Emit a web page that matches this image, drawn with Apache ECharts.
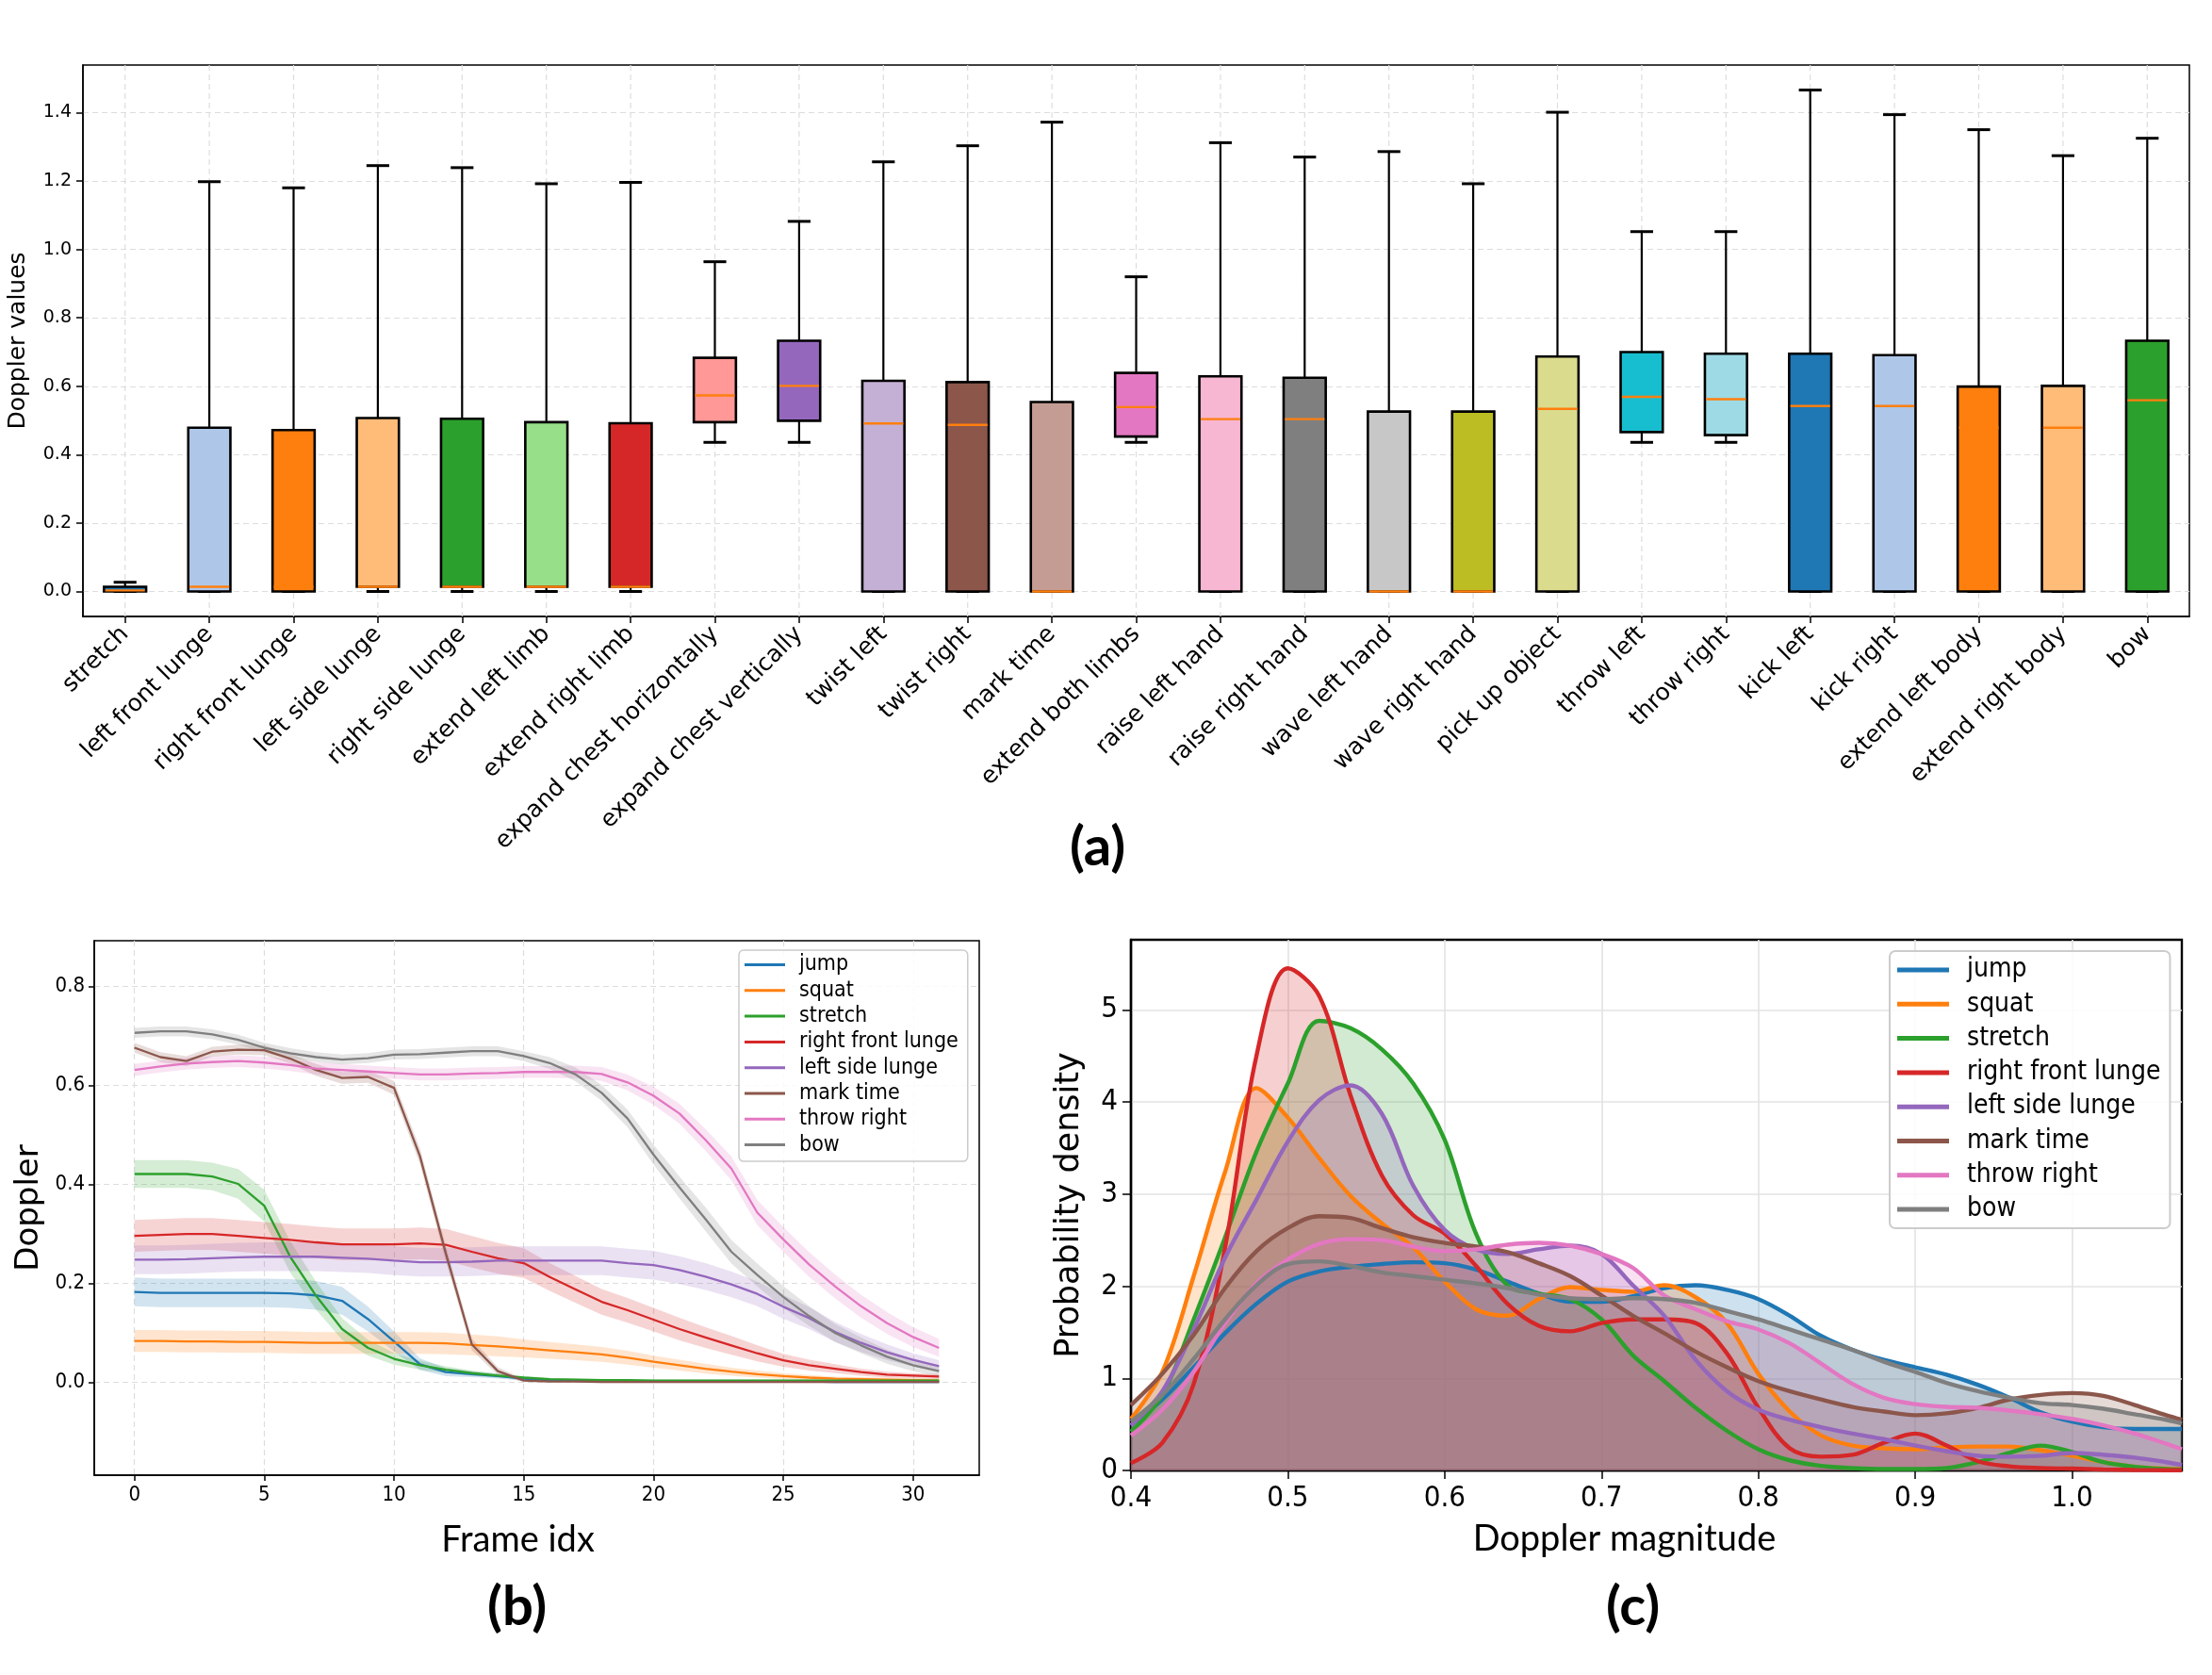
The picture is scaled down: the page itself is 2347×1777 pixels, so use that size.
<!DOCTYPE html>
<html>
<head>
<meta charset="utf-8">
<script src="https://cdn.jsdelivr.net/npm/echarts@6/dist/echarts.min.js"></script>
<style>
html, body { margin: 0; padding: 0; background: #fff; }
#chart { width: 2347px; height: 1777px; }
</style>
</head>
<body>
<div id="chart"></div>
<script>
// ---- panel (a): box plots per activity ----
const activities = ['stretch', 'left front lunge', 'right front lunge', 'left side lunge', 'right side lunge',
    'extend left limb', 'extend right limb', 'expand chest horizontally', 'expand chest vertically',
    'twist left', 'twist right', 'mark time', 'extend both limbs', 'raise left hand', 'raise right hand',
    'wave left hand', 'wave right hand', 'pick up object', 'throw left', 'throw right', 'kick left',
    'kick right', 'extend left body', 'extend right body', 'bow'];
const boxColors = ['#1f77b4', '#aec7e8', '#ff7f0e', '#ffbb78', '#2ca02c', '#98df8a', '#d62728', '#ff9896',
    '#9467bd', '#c5b0d5', '#8c564b', '#c49c94', '#e377c2', '#f7b6d2', '#7f7f7f', '#c7c7c7', '#bcbd22',
    '#dbdb8d', '#17becf', '#9edae5', '#1f77b4', '#aec7e8', '#ff7f0e', '#ffbb78', '#2ca02c'];
const whiskerLow = [0, 0, 0, 0, 0, 0, 0, 0.436, 0.436, 0, 0, 0, 0.436, 0, 0, 0, 0, 0, 0.436, 0.436, 0, 0, 0, 0, 0];
const q1 = [0, 0, 0, 0.014, 0.014, 0.014, 0.014, 0.495, 0.499, 0, 0, 0, 0.453, 0, 0, 0, 0, 0, 0.466, 0.457, 0, 0, 0, 0, 0];
const medians = [0.003, 0.014, 0.014, 0.014, 0.014, 0.014, 0.014, 0.573, 0.601, 0.491, 0.487, 0, 0.539, 0.504, 0.504,
    0, 0, 0.534, 0.569, 0.562, 0.542, 0.542, 0.479, 0.479, 0.559];
const q3 = [0.014, 0.479, 0.472, 0.507, 0.505, 0.495, 0.492, 0.683, 0.733, 0.616, 0.612, 0.554, 0.639, 0.629, 0.625,
    0.526, 0.526, 0.687, 0.700, 0.695, 0.695, 0.691, 0.599, 0.601, 0.733];
const whiskerHigh = [0.027, 1.198, 1.180, 1.245, 1.239, 1.192, 1.196, 0.964, 1.082, 1.256, 1.303, 1.372, 0.920, 1.312,
    1.270, 1.286, 1.192, 1.401, 1.052, 1.052, 1.466, 1.394, 1.350, 1.274, 1.325];
const ticksA = [0, 0.2, 0.4, 0.6, 0.8, 1.0, 1.2, 1.4];

// ---- panel (b): mean doppler per frame with spread ----
const frames = [0, 1, 2, 3, 4, 5, 6, 7, 8, 9, 10, 11, 12, 13, 14, 15, 16, 17, 18, 19, 20, 21, 22, 23, 24, 25, 26, 27, 28, 29, 30, 31];
const meanJump = [.183, .181, .181, .181, .181, .181, .180, .176, .165, .128, .083, .037, .021, .017, .013, .008,
    .005, .004, .003, .003, .002, .002, .002, .002, .002, .002, .002, .001, .001, .001, .001, .001];
const bandJump = [.029, .029, .029, .029, .029, .029, .029, .029, .028, .025, .020, .012, .008, .006, .005, .004,
    .003, .003, .003, .002, .002, .002, .002, .002, .002, .002, .002, .002, .002, .002, .002, .002];
const meanSquat = [.084, .084, .083, .083, .082, .082, .081, .080, .080, .080, .080, .080, .079, .076, .073, .069,
    .065, .061, .057, .050, .042, .035, .028, .022, .017, .013, .010, .008, .007, .006, .005, .004];
const bandSquat = [.022, .022, .022, .022, .022, .022, .022, .022, .022, .022, .022, .022, .022, .021, .020, .018,
    .017, .016, .015, .014, .012, .011, .010, .008, .007, .006, .005, .004, .004, .004, .004, .004];
const meanStretch = [.421, .421, .421, .416, .401, .357, .254, .175, .108, .070, .048, .035, .026, .019, .014, .010,
    .007, .006, .005, .005, .004, .004, .004, .004, .004, .004, .004, .004, .004, .004, .004, .004];
const bandStretch = [.028, .028, .028, .028, .030, .032, .032, .028, .022, .016, .012, .009, .007, .005, .004, .003,
    .002, .002, .002, .002, .002, .002, .002, .002, .002, .002, .002, .002, .002, .002, .002, .002];
const meanRightFront = [.296, .298, .300, .300, .296, .292, .288, .283, .279, .279, .279, .281, .278, .264, .251, .241,
    .213, .188, .163, .146, .127, .108, .091, .075, .059, .045, .035, .028, .021, .016, .014, .012];
const bandRightFront = [.032, .032, .032, .032, .032, .032, .032, .032, .032, .032, .032, .032, .032, .032, .031, .030,
    .028, .027, .026, .025, .024, .023, .021, .019, .016, .013, .011, .009, .007, .006, .005, .005];
const meanLeftSide = [.248, .248, .249, .251, .253, .254, .254, .254, .252, .250, .246, .243, .243, .244, .246, .246,
    .246, .246, .246, .241, .237, .227, .214, .198, .179, .153, .130, .102, .080, .061, .046, .033];
const bandLeftSide = [.029, .029, .029, .029, .029, .029, .029, .029, .029, .029, .029, .029, .029, .029, .029, .029,
    .029, .029, .029, .029, .029, .028, .027, .026, .025, .024, .022, .020, .018, .016, .013, .012];
const meanMarkTime = [.676, .657, .649, .668, .672, .671, .654, .631, .615, .617, .595, .457, .260, .077, .023, .004,
    .002, .002, .001, .001, .001, .001, .001, .001, .001, .001, .001, .001, .001, .001, .001, .001];
const bandMarkTime = [.010, .010, .010, .010, .010, .010, .010, .012, .012, .012, .014, .016, .016, .012, .008, .003,
    .002, .002, .002, .002, .002, .002, .002, .002, .002, .002, .002, .002, .002, .002, .002, .002];
const meanThrowRight = [.631, .638, .644, .647, .649, .646, .641, .634, .631, .628, .625, .622, .622, .624, .625, .627,
    .627, .627, .623, .606, .579, .543, .490, .432, .343, .289, .238, .194, .154, .120, .092, .070];
const bandThrowRight = [.012, .012, .012, .012, .012, .012, .012, .012, .012, .012, .012, .012, .012, .012, .012, .012,
    .012, .013, .014, .016, .018, .020, .022, .024, .025, .025, .025, .024, .023, .022, .020, .018];
const meanBow = [.706, .709, .709, .703, .692, .676, .665, .657, .652, .655, .662, .663, .666, .669, .669, .659,
    .645, .622, .585, .533, .460, .394, .330, .264, .217, .173, .134, .100, .075, .052, .035, .023];
const bandBow = [.010, .010, .010, .010, .010, .010, .010, .010, .010, .010, .010, .010, .010, .010, .010, .010,
    .012, .014, .016, .018, .020, .022, .024, .024, .023, .022, .020, .018, .016, .014, .012, .010];
const ticksBx = [0, 5, 10, 15, 20, 25, 30];
const ticksBy = [0, 0.2, 0.4, 0.6, 0.8];

// ---- panel (c): density of doppler magnitude ----
const magX = [0.40, 0.42, 0.44, 0.46, 0.48, 0.50, 0.52, 0.54, 0.56, 0.58, 0.60, 0.62, 0.64, 0.66, 0.68, 0.70, 0.72,
    0.74, 0.76, 0.78, 0.80, 0.82, 0.84, 0.86, 0.88, 0.90, 0.92, 0.94, 0.96, 0.98, 1.00, 1.02, 1.04, 1.06, 1.07];
const kdeJump = [.49, .77, 1.12, 1.49, 1.81, 2.05, 2.16, 2.21, 2.24, 2.26, 2.25, 2.18, 2.05, 1.92, 1.83, 1.83, 1.89,
    1.98, 2.01, 1.96, 1.86, 1.68, 1.46, 1.31, 1.20, 1.12, 1.04, .93, .79, .63, .53, .47, .45, .45, .45];
const kdeSquat = [.56, 1.07, 2.11, 3.24, 4.15, 3.83, 3.39, 2.98, 2.68, 2.42, 2.05, 1.75, 1.68, 1.86, 1.99, 1.96, 1.94,
    2.01, 1.88, 1.60, 1.05, .64, .38, .27, .24, .23, .25, .26, .26, .22, .16, .09, .04, .02, .015];
const kdeStretch = [.42, .82, 1.64, 2.53, 3.46, 4.20, 4.88, 4.80, 4.57, 4.20, 3.59, 2.57, 2.01, 1.92, 1.86, 1.64, 1.25,
    .97, .68, .43, .23, .11, .05, .026, .015, .015, .026, .09, .19, .27, .20, .09, .04, .015, .01];
const kdeRightFront = [.08, .30, .94, 2.42, 4.50, 5.45, 5.15, 4.07, 3.20, 2.77, 2.57, 2.22, 1.81, 1.57, 1.51, 1.60, 1.64,
    1.64, 1.60, 1.27, .68, .24, .15, .17, .30, .40, .27, .10, .045, .026, .02, .01, .005, .003, .002];
const kdeLeftSide = [.49, .86, 1.53, 2.31, 2.94, 3.57, 4.02, 4.18, 3.87, 3.09, 2.61, 2.40, 2.35, 2.40, 2.44, 2.35, 2.01,
    1.68, 1.20, .86, .66, .55, .47, .40, .34, .27, .21, .16, .15, .16, .19, .17, .14, .09, .06];
const kdeMarkTime = [.71, 1.05, 1.47, 1.98, 2.38, 2.63, 2.76, 2.74, 2.63, 2.53, 2.47, 2.43, 2.37, 2.25, 2.11, 1.90, 1.68,
    1.49, 1.29, 1.12, .97, .86, .77, .69, .64, .60, .62, .68, .77, .82, .84, .81, .71, .60, .55];
const kdeThrowRight = [.38, .66, 1.07, 1.60, 2.03, 2.29, 2.46, 2.51, 2.50, 2.43, 2.38, 2.40, 2.45, 2.47, 2.44, 2.35, 2.20,
    1.90, 1.75, 1.62, 1.53, 1.38, 1.16, .94, .79, .72, .69, .68, .65, .61, .56, .49, .40, .29, .23];
const kdeBow = [.53, .82, 1.21, 1.64, 2.01, 2.24, 2.27, 2.22, 2.15, 2.11, 2.07, 2.03, 1.98, 1.91, 1.87, 1.86, 1.87,
    1.86, 1.82, 1.73, 1.64, 1.53, 1.42, 1.31, 1.18, 1.07, .95, .86, .79, .73, .71, .67, .61, .55, .51];
const ticksCx = [0.4, 0.5, 0.6, 0.7, 0.8, 0.9, 1.0];
const ticksCy = [0, 1, 2, 3, 4, 5];

const lineNames = ['jump', 'squat', 'stretch', 'right front lunge', 'left side lunge', 'mark time', 'throw right', 'bow'];
const lineColors = ['#1f77b4', '#ff7f0e', '#2ca02c', '#d62728', '#9467bd', '#8c564b', '#e377c2', '#7f7f7f'];
const meansB = [meanJump, meanSquat, meanStretch, meanRightFront, meanLeftSide, meanMarkTime, meanThrowRight, meanBow];
const bandsB = [bandJump, bandSquat, bandStretch, bandRightFront, bandLeftSide, bandMarkTime, bandThrowRight, bandBow];
const kdesC = [kdeJump, kdeSquat, kdeStretch, kdeRightFront, kdeLeftSide, kdeMarkTime, kdeThrowRight, kdeBow];

const condensed = "'DejaVu Sans Condensed', 'DejaVu Sans', sans-serif";
const humanist = "Lato, 'Open Sans', sans-serif";

function renderBox(params, api) {
    const i = api.value(0);
    const x = api.coord([i, 0])[0];
    const yLo = api.coord([i, api.value(1)])[1];
    const yQ1 = api.coord([i, api.value(2)])[1];
    const yMed = api.coord([i, api.value(3)])[1];
    const yQ3 = api.coord([i, api.value(4)])[1];
    const yHi = api.coord([i, api.value(5)])[1];
    const bw = api.size([1, 0])[0] * 0.5;
    const cap = bw * 0.27;
    const cs = params.coordSys;
    return {
        type: 'group',
        children: [
            {type: 'line', silent: true, shape: {x1: x, y1: cs.y, x2: x, y2: cs.y + cs.height},
                style: {stroke: '#dddddd', lineWidth: 1.2, lineDash: [6, 4]}},
            {type: 'line', shape: {x1: x, y1: yQ3, x2: x, y2: yHi}, style: {stroke: '#000', lineWidth: 2.2}},
            {type: 'line', shape: {x1: x, y1: yQ1, x2: x, y2: yLo}, style: {stroke: '#000', lineWidth: 2.2}},
            {type: 'line', shape: {x1: x - cap, y1: yHi, x2: x + cap, y2: yHi}, style: {stroke: '#000', lineWidth: 3}},
            {type: 'line', shape: {x1: x - cap, y1: yLo, x2: x + cap, y2: yLo}, style: {stroke: '#000', lineWidth: 3}},
            {type: 'rect', shape: {x: x - bw / 2, y: yQ3, width: bw, height: yQ1 - yQ3},
                style: {fill: boxColors[params.dataIndex], stroke: '#000', lineWidth: 2.6}},
            {type: 'line', shape: {x1: x - bw / 2 + 1.3, y1: yMed, x2: x + bw / 2 - 1.3, y2: yMed},
                style: {stroke: '#ff7f0e', lineWidth: 2.4}}
        ]
    };
}

function bandSeries(mean, spread, color) {
    return {
        type: 'custom', xAxisIndex: 1, yAxisIndex: 1, silent: true, clip: true,
        data: [[0, 0]],
        renderItem: function (params, api) {
            const pts = [];
            frames.forEach((f, k) => pts.push(api.coord([f, mean[k] + spread[k]])));
            for (let k = frames.length - 1; k >= 0; k--) {
                pts.push(api.coord([frames[k], mean[k] - spread[k]]));
            }
            return {type: 'polygon', shape: {points: pts}, style: {fill: color, opacity: 0.2}};
        }
    };
}

const series = [];
series.push({
    type: 'custom', name: 'box', xAxisIndex: 0, yAxisIndex: 0,
    renderItem: renderBox,
    encode: {x: 0, y: [1, 2, 3, 4, 5]},
    data: activities.map((a, i) => [i, whiskerLow[i], q1[i], medians[i], q3[i], whiskerHigh[i]])
});
lineNames.forEach((name, s) => {
    series.push(bandSeries(meansB[s], bandsB[s], lineColors[s]));
    series.push({
        type: 'line', name: name, xAxisIndex: 1, yAxisIndex: 1,
        data: frames.map((f, k) => [f, meansB[s][k]]),
        showSymbol: false, color: lineColors[s],
        lineStyle: {width: 2.3, color: lineColors[s]}
    });
});
lineNames.forEach((name, s) => {
    series.push({
        type: 'line', name: name, xAxisIndex: 2, yAxisIndex: 2,
        data: magX.map((x, k) => [x, kdesC[s][k]]),
        smooth: 0.35, showSymbol: false, color: lineColors[s],
        lineStyle: {width: 4.4, color: lineColors[s]},
        areaStyle: {color: lineColors[s], opacity: 0.22}
    });
});

const tickStyle = {show: true, inside: false, length: 7, lineStyle: {color: '#000', width: 1.5}};
const dashed = {show: true, lineStyle: {color: '#dddddd', width: 1.2, type: [6, 4]}};

const option = {
    animation: false,
    backgroundColor: '#fff',
    textStyle: {fontFamily: 'DejaVu Sans'},
    grid: [
        {left: 88, top: 69, width: 2235, height: 585, show: true, borderColor: '#000', borderWidth: 1.5, outerBoundsMode: 'none'},
        {left: 100, top: 998, width: 939, height: 567, show: true, borderColor: '#000', borderWidth: 1.5, outerBoundsMode: 'none'},
        {left: 1200, top: 997, width: 1115, height: 563, show: true, borderColor: '#000', borderWidth: 2.4, outerBoundsMode: 'none'}
    ],
    xAxis: [
        {
            gridIndex: 0, type: 'category', data: activities, boundaryGap: true,
            axisLine: {onZero: false, lineStyle: {color: '#000', width: 1.5}},
            axisTick: Object.assign({}, tickStyle, {alignWithLabel: true}),
            axisLabel: {interval: 0, rotate: 45, margin: 15, fontSize: 25, color: '#000', fontFamily: 'DejaVu Sans'},
            splitLine: {show: false}
        },
        {
            gridIndex: 1, type: 'value', min: -1.55, max: 32.55,
            axisLine: {onZero: false, lineStyle: {color: '#000', width: 1.5}},
            axisTick: Object.assign({}, tickStyle, {length: 6, customValues: ticksBx}),
            axisLabel: {customValues: ticksBx, margin: 10, fontSize: 22, color: '#000', fontFamily: condensed},
            splitLine: dashed,
            name: 'Frame idx', nameLocation: 'middle', nameGap: 50,
            nameTextStyle: {fontSize: 38, fontFamily: humanist, color: '#000', padding: [0, 40, 0, 0]}
        },
        {
            gridIndex: 2, type: 'value', min: 0.4, max: 1.07,
            axisLine: {onZero: false, lineStyle: {color: '#000', width: 2.4}},
            axisTick: Object.assign({}, tickStyle, {length: 9, customValues: ticksCx}),
            axisLabel: {customValues: ticksCx, margin: 14, fontSize: 31, color: '#000', fontFamily: condensed,
                formatter: v => v.toFixed(1)},
            splitLine: {show: true, lineStyle: {color: '#e3e3e3', width: 1.6}},
            name: 'Doppler magnitude', nameLocation: 'middle', nameGap: 54,
            nameTextStyle: {fontSize: 38, fontFamily: humanist, color: '#000', padding: [0, 68, 0, 0]}
        }
    ],
    yAxis: [
        {
            gridIndex: 0, type: 'value', min: -0.073, max: 1.539,
            axisLine: {show: true, onZero: false, lineStyle: {color: '#000', width: 1.5}},
            axisTick: Object.assign({}, tickStyle, {customValues: ticksA}),
            axisLabel: {customValues: ticksA, margin: 12, fontSize: 19, color: '#000', formatter: v => v.toFixed(1)},
            splitLine: dashed,
            name: 'Doppler values', nameLocation: 'middle', nameGap: 56, nameRotate: 90,
            nameTextStyle: {fontSize: 25, color: '#000'}
        },
        {
            gridIndex: 1, type: 'value', min: -0.187, max: 0.892,
            axisLine: {show: true, onZero: false, lineStyle: {color: '#000', width: 1.5}},
            axisTick: Object.assign({}, tickStyle, {length: 6, customValues: ticksBy}),
            axisLabel: {customValues: ticksBy, margin: 10, fontSize: 22, color: '#000', fontFamily: condensed,
                formatter: v => v.toFixed(1)},
            splitLine: dashed,
            name: 'Doppler', nameLocation: 'middle', nameGap: 52, nameRotate: 90,
            nameTextStyle: {fontSize: 34, color: '#000'}
        },
        {
            gridIndex: 2, type: 'value', min: 0, max: 5.76,
            axisLine: {show: true, onZero: false, lineStyle: {color: '#000', width: 2.4}},
            axisTick: Object.assign({}, tickStyle, {length: 9, customValues: ticksCy}),
            axisLabel: {customValues: ticksCy, margin: 14, fontSize: 31, color: '#000', fontFamily: condensed},
            splitLine: {show: true, lineStyle: {color: '#e3e3e3', width: 1.6}},
            name: 'Probability density', nameLocation: 'middle', nameGap: 48, nameRotate: 90,
            nameTextStyle: {fontSize: 35, color: '#000'}
        }
    ],
    legend: [
        {
            data: lineNames, orient: 'vertical', left: 784, top: 1008, selectedMode: false,
            icon: 'rect', itemWidth: 43, itemHeight: 3, itemGap: 4.3,
            padding: [4, 10, 6, 6],
            backgroundColor: 'rgba(255,255,255,0.85)', borderColor: '#cccccc', borderWidth: 1.5, borderRadius: 5,
            textStyle: {fontSize: 23, lineHeight: 23, color: '#000', fontFamily: condensed, padding: [0, 0, 0, 10]}
        },
        {
            data: lineNames, orient: 'vertical', left: 2005, top: 1009, selectedMode: false,
            icon: 'rect', itemWidth: 55, itemHeight: 5, itemGap: 8.3,
            padding: [6, 10, 6, 8],
            backgroundColor: 'rgba(255,255,255,0.85)', borderColor: '#cccccc', borderWidth: 2, borderRadius: 6,
            textStyle: {fontSize: 28, lineHeight: 28, color: '#000', fontFamily: condensed, padding: [0, 0, 0, 14]}
        }
    ],
    graphic: [
        {type: 'text', left: 1135, top: 870, style: {text: '(a)', font: 'bold 58px Lato, "Open Sans", sans-serif', fill: '#000'}},
        {type: 'text', left: 517, top: 1676, style: {text: '(b)', font: 'bold 58px Lato, "Open Sans", sans-serif', fill: '#000'}},
        {type: 'text', left: 1704, top: 1676, style: {text: '(c)', font: 'bold 58px Lato, "Open Sans", sans-serif', fill: '#000'}}
    ],
    series: series
};

const chart = echarts.init(document.getElementById('chart'));
chart.setOption(option);
</script>
</body>
</html>
